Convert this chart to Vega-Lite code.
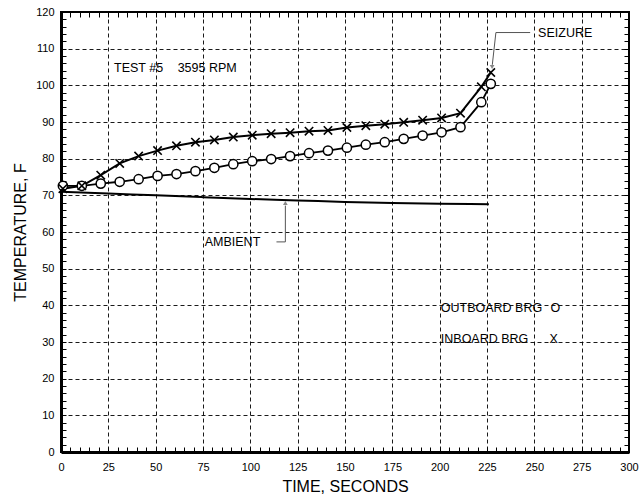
{
  "$schema": "https://vega.github.io/schema/vega-lite/v6.json",
  "width": 568,
  "height": 440,
  "autosize": {"type": "none"},
  "padding": {"left": 61, "top": 12, "right": 10, "bottom": 44},
  "background": "white",
  "config": {
    "view": {"stroke": "black", "strokeWidth": 2},
    "font": "Liberation Sans",
    "text": {"font": "Liberation Sans", "fontSize": 13, "color": "black"}
  },
  "datasets": {
    "bearings": [
      {"series": "OUTBOARD", "time": 1, "temp": 72.6},
      {"series": "OUTBOARD", "time": 11, "temp": 72.6},
      {"series": "OUTBOARD", "time": 21, "temp": 73.2},
      {"series": "OUTBOARD", "time": 31, "temp": 73.7},
      {"series": "OUTBOARD", "time": 41, "temp": 74.4},
      {"series": "OUTBOARD", "time": 51, "temp": 75.3},
      {"series": "OUTBOARD", "time": 61, "temp": 75.8},
      {"series": "OUTBOARD", "time": 71, "temp": 76.6},
      {"series": "OUTBOARD", "time": 81, "temp": 77.5},
      {"series": "OUTBOARD", "time": 91, "temp": 78.5},
      {"series": "OUTBOARD", "time": 101, "temp": 79.3},
      {"series": "OUTBOARD", "time": 111, "temp": 79.9},
      {"series": "OUTBOARD", "time": 121, "temp": 80.7},
      {"series": "OUTBOARD", "time": 131, "temp": 81.5},
      {"series": "OUTBOARD", "time": 141, "temp": 82.2},
      {"series": "OUTBOARD", "time": 151, "temp": 83.0},
      {"series": "OUTBOARD", "time": 161, "temp": 83.8},
      {"series": "OUTBOARD", "time": 171, "temp": 84.5},
      {"series": "OUTBOARD", "time": 181, "temp": 85.4},
      {"series": "OUTBOARD", "time": 191, "temp": 86.3},
      {"series": "OUTBOARD", "time": 201, "temp": 87.2},
      {"series": "OUTBOARD", "time": 211, "temp": 88.6},
      {"series": "OUTBOARD", "time": 222, "temp": 95.4},
      {"series": "OUTBOARD", "time": 227, "temp": 100.4},
      {"series": "INBOARD", "time": 1, "temp": 71.8},
      {"series": "INBOARD", "time": 11, "temp": 72.6},
      {"series": "INBOARD", "time": 21, "temp": 75.5},
      {"series": "INBOARD", "time": 31, "temp": 78.7},
      {"series": "INBOARD", "time": 41, "temp": 80.7},
      {"series": "INBOARD", "time": 51, "temp": 82.2},
      {"series": "INBOARD", "time": 61, "temp": 83.5},
      {"series": "INBOARD", "time": 71, "temp": 84.5},
      {"series": "INBOARD", "time": 81, "temp": 85.1},
      {"series": "INBOARD", "time": 91, "temp": 85.9},
      {"series": "INBOARD", "time": 101, "temp": 86.4},
      {"series": "INBOARD", "time": 111, "temp": 86.8},
      {"series": "INBOARD", "time": 121, "temp": 87.1},
      {"series": "INBOARD", "time": 131, "temp": 87.5},
      {"series": "INBOARD", "time": 141, "temp": 87.7},
      {"series": "INBOARD", "time": 151, "temp": 88.5},
      {"series": "INBOARD", "time": 161, "temp": 89.0},
      {"series": "INBOARD", "time": 171, "temp": 89.4},
      {"series": "INBOARD", "time": 181, "temp": 89.9},
      {"series": "INBOARD", "time": 191, "temp": 90.5},
      {"series": "INBOARD", "time": 201, "temp": 91.1},
      {"series": "INBOARD", "time": 211, "temp": 92.4},
      {"series": "INBOARD", "time": 222, "temp": 99.6},
      {"series": "INBOARD", "time": 227, "temp": 103.5}
    ],
    "ambient": [
      {"time": 0, "temp": 71.0},
      {"time": 25, "temp": 70.5},
      {"time": 50, "temp": 70.0},
      {"time": 75, "temp": 69.5},
      {"time": 100, "temp": 69.0},
      {"time": 125, "temp": 68.6},
      {"time": 150, "temp": 68.2},
      {"time": 175, "temp": 67.9},
      {"time": 200, "temp": 67.7},
      {"time": 226, "temp": 67.6}
    ],
    "leaders": [
      {"id": "seizure", "order": 1, "time": 247.8, "temp": 114.4},
      {"id": "seizure", "order": 2, "time": 229.7, "temp": 114.4},
      {"id": "seizure", "order": 3, "time": 227.8, "temp": 105.6},
      {"id": "ambient", "order": 1, "time": 113.8, "temp": 57.3},
      {"id": "ambient", "order": 2, "time": 118.5, "temp": 57.3},
      {"id": "ambient", "order": 3, "time": 118.5, "temp": 67.2}
    ],
    "arrows": [
      {"dir": "down", "time": 227.7, "temp": 105.0},
      {"dir": "up", "time": 118.5, "temp": 67.9}
    ],
    "labels": [
      {"text": "TEST #5", "time": 28, "temp": 104.7},
      {"text": "3595 RPM", "time": 61.6, "temp": 104.7},
      {"text": "SEIZURE", "time": 252, "temp": 114.4},
      {"text": "AMBIENT", "time": 75.9, "temp": 57.3},
      {"text": "OUTBOARD BRG", "time": 200.6, "temp": 39.3},
      {"text": "O", "time": 258.5, "temp": 39.3},
      {"text": "INBOARD BRG", "time": 200.6, "temp": 30.8},
      {"text": "X", "time": 258, "temp": 30.8}
    ]
  },
  "resolve": {"axis": {"x": "independent", "y": "independent"}},
  "layer": [
    {
      "data": {"name": "bearings"},
      "transform": [{"filter": "datum.series === 'OUTBOARD'"}],
      "mark": {"type": "line", "color": "black", "strokeWidth": 1.8},
      "encoding": {
        "x": {
          "field": "time", "type": "quantitative",
          "scale": {"domain": [0, 300], "nice": false, "zero": false},
          "axis": {
            "orient": "bottom",
            "values": [0,5,10,15,20,25,30,35,40,45,50,55,60,65,70,75,80,85,90,95,100,105,110,115,120,125,130,135,140,145,150,155,160,165,170,175,180,185,190,195,200,205,210,215,220,225,230,235,240,245,250,255,260,265,270,275,280,285,290,295,300],
            "labelExpr": "datum.value % 25 === 0 ? datum.label : ''",
            "labelFlush": false,
            "labelOverlap": false,
            "labelFont": "Liberation Sans",
            "labelFontSize": 11,
            "labelColor": "black",
            "labelPadding": 14,
            "tickSize": -5,
            "tickColor": "black",
            "tickWidth": 1,
            "domain": true,
            "domainColor": "black",
            "domainWidth": 3,
            "grid": true,
            "gridColor": "black",
            "gridWidth": 0.9,
            "gridDash": [4, 3],
            "gridOpacity": {"condition": {"test": "datum.value % 25 === 0 && datum.value > 0 && datum.value < 300", "value": 1}, "value": 0},
            "title": "TIME, SECONDS",
            "titleFont": "Liberation Sans",
            "titleFontSize": 16,
            "titleFontWeight": "normal",
            "titleColor": "black",
            "titlePadding": 6
          }
        },
        "y": {
          "field": "temp", "type": "quantitative",
          "scale": {"domain": [0, 120], "nice": false, "zero": false},
          "axis": {
            "orient": "left",
            "values": [0,2,4,6,8,10,12,14,16,18,20,22,24,26,28,30,32,34,36,38,40,42,44,46,48,50,52,54,56,58,60,62,64,66,68,70,72,74,76,78,80,82,84,86,88,90,92,94,96,98,100,102,104,106,108,110,112,114,116,118,120],
            "labelExpr": "datum.value % 10 === 0 ? datum.label : ''",
            "labelFlush": false,
            "labelOverlap": false,
            "labelFont": "Liberation Sans",
            "labelFontSize": 11,
            "labelColor": "black",
            "labelPadding": 12,
            "tickSize": -5,
            "tickColor": "black",
            "tickWidth": 1,
            "domain": true,
            "domainColor": "black",
            "domainWidth": 3,
            "grid": true,
            "gridColor": "black",
            "gridWidth": 0.9,
            "gridDash": [4, 3],
            "gridOpacity": {"condition": {"test": "datum.value % 10 === 0 && datum.value > 0 && datum.value < 120", "value": 1}, "value": 0},
            "title": "TEMPERATURE, F",
            "titleFont": "Liberation Sans",
            "titleFontSize": 16,
            "titleFontWeight": "normal",
            "titleColor": "black",
            "titlePadding": 7
          }
        }
      }
    },
    {
      "data": {"name": "bearings"},
      "transform": [{"filter": "datum.series === 'INBOARD'"}],
      "mark": {"type": "line", "color": "black", "strokeWidth": 2},
      "encoding": {
        "x": {
          "field": "time", "type": "quantitative",
          "scale": {"domain": [0, 300], "nice": false, "zero": false},
          "axis": {
            "orient": "top",
            "values": [0,5,10,15,20,25,30,35,40,45,50,55,60,65,70,75,80,85,90,95,100,105,110,115,120,125,130,135,140,145,150,155,160,165,170,175,180,185,190,195,200,205,210,215,220,225,230,235,240,245,250,255,260,265,270,275,280,285,290,295,300],
            "labels": false,
            "tickSize": -5,
            "tickColor": "black",
            "tickWidth": 1,
            "domain": false,
            "grid": false,
            "title": null
          }
        },
        "y": {
          "field": "temp", "type": "quantitative",
          "scale": {"domain": [0, 120], "nice": false, "zero": false},
          "axis": {
            "orient": "right",
            "values": [0,2,4,6,8,10,12,14,16,18,20,22,24,26,28,30,32,34,36,38,40,42,44,46,48,50,52,54,56,58,60,62,64,66,68,70,72,74,76,78,80,82,84,86,88,90,92,94,96,98,100,102,104,106,108,110,112,114,116,118,120],
            "labels": false,
            "tickSize": -5,
            "tickColor": "black",
            "tickWidth": 1,
            "domain": false,
            "grid": false,
            "title": null
          }
        }
      }
    },
    {
      "data": {"name": "ambient"},
      "mark": {"type": "line", "color": "black", "strokeWidth": 2, "interpolate": "monotone"},
      "encoding": {
        "x": {"field": "time", "type": "quantitative", "scale": {"domain": [0, 300], "nice": false, "zero": false}, "axis": null},
        "y": {"field": "temp", "type": "quantitative", "scale": {"domain": [0, 120], "nice": false, "zero": false}, "axis": null}
      }
    },
    {
      "data": {"name": "leaders"},
      "mark": {"type": "line", "color": "#555555", "strokeWidth": 1},
      "encoding": {
        "x": {"field": "time", "type": "quantitative", "scale": {"domain": [0, 300], "nice": false, "zero": false}, "axis": null},
        "y": {"field": "temp", "type": "quantitative", "scale": {"domain": [0, 120], "nice": false, "zero": false}, "axis": null},
        "detail": {"field": "id", "type": "nominal"},
        "order": {"field": "order", "type": "quantitative"}
      }
    },
    {
      "data": {"name": "arrows"},
      "mark": {"type": "point", "filled": true, "color": "#555555", "size": 22},
      "encoding": {
        "x": {"field": "time", "type": "quantitative", "scale": {"domain": [0, 300], "nice": false, "zero": false}, "axis": null},
        "y": {"field": "temp", "type": "quantitative", "scale": {"domain": [0, 120], "nice": false, "zero": false}, "axis": null},
        "shape": {"field": "dir", "type": "nominal", "scale": {"domain": ["down", "up"], "range": ["triangle-down", "triangle-up"]}, "legend": null}
      }
    },
    {
      "data": {"name": "bearings"},
      "transform": [{"filter": "datum.series === 'OUTBOARD'"}],
      "mark": {"type": "point", "shape": "circle", "filled": false, "fill": "white", "fillOpacity": 1, "stroke": "black", "strokeWidth": 1.5, "size": 85, "opacity": 1},
      "encoding": {
        "x": {"field": "time", "type": "quantitative", "scale": {"domain": [0, 300], "nice": false, "zero": false}, "axis": null},
        "y": {"field": "temp", "type": "quantitative", "scale": {"domain": [0, 120], "nice": false, "zero": false}, "axis": null}
      }
    },
    {
      "data": {"name": "bearings"},
      "transform": [{"filter": "datum.series === 'INBOARD'"}],
      "mark": {"type": "point", "shape": "M-1,-1L1,1M-1,1L1,-1", "filled": false, "stroke": "black", "strokeWidth": 1.6, "size": 70, "opacity": 1},
      "encoding": {
        "x": {"field": "time", "type": "quantitative", "scale": {"domain": [0, 300], "nice": false, "zero": false}, "axis": null},
        "y": {"field": "temp", "type": "quantitative", "scale": {"domain": [0, 120], "nice": false, "zero": false}, "axis": null}
      }
    },
    {
      "data": {"name": "labels"},
      "mark": {"type": "text", "align": "left", "baseline": "middle", "font": "Liberation Sans", "fontSize": 12.5, "color": "black"},
      "encoding": {
        "x": {"field": "time", "type": "quantitative", "scale": {"domain": [0, 300], "nice": false, "zero": false}, "axis": null},
        "y": {"field": "temp", "type": "quantitative", "scale": {"domain": [0, 120], "nice": false, "zero": false}, "axis": null},
        "text": {"field": "text", "type": "nominal"}
      }
    }
  ]
}
